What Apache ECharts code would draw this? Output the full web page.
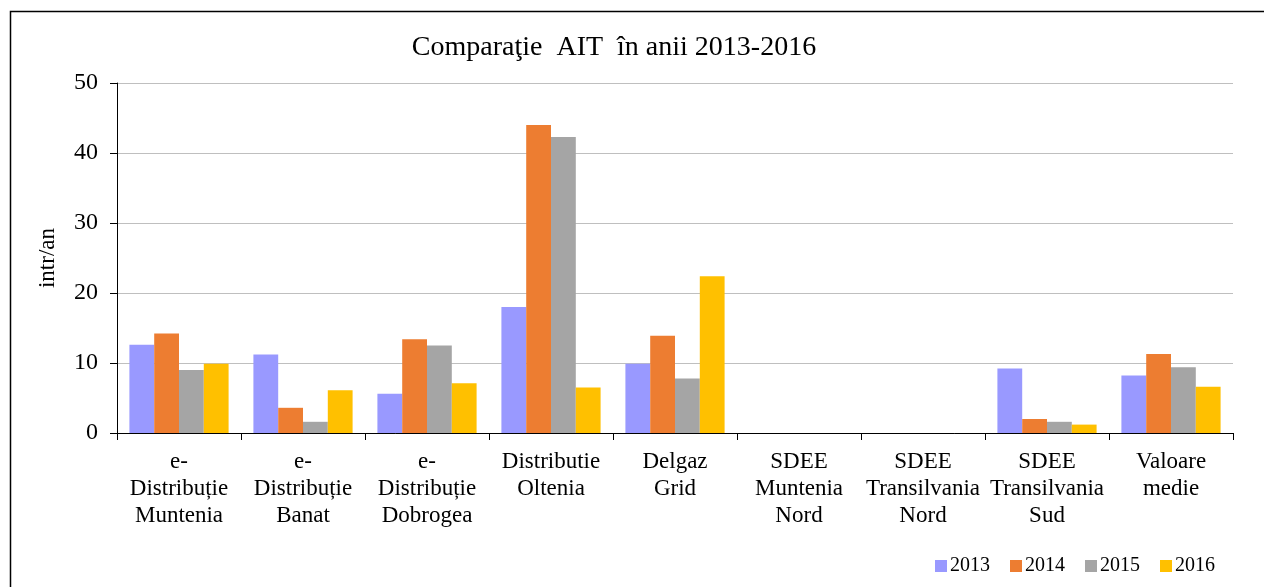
<!DOCTYPE html>
<html>
<head>
<meta charset="utf-8">
<script src="https://cdn.jsdelivr.net/npm/echarts@6/dist/echarts.min.js"></script>
<style>
  html, body { margin: 0; padding: 0; background: #fff; }
  #main { width: 1264px; height: 587px; }
</style>
</head>
<body>
<div id="main"></div>
<script>
var categories = [
  "e-\nDistribuție\nMuntenia",
  "e-\nDistribuție\nBanat",
  "e-\nDistribuție\nDobrogea",
  "Distributie\nOltenia",
  "Delgaz\nGrid",
  "SDEE\nMuntenia\nNord",
  "SDEE\nTransilvania\nNord",
  "SDEE\nTransilvania\nSud",
  "Valoare\nmedie"
];
var years = ["2013", "2014", "2015", "2016"];
var v2013 = [12.6, 11.2, 5.6, 18.0, 9.9, 0, 0, 9.2, 8.2];
var v2014 = [14.2, 3.6, 13.4, 44.0, 13.9, 0, 0, 2.0, 11.3];
var v2015 = [9.0, 1.6, 12.5, 42.3, 7.8, 0, 0, 1.6, 9.4];
var v2016 = [9.9, 6.1, 7.1, 6.5, 22.4, 0, 0, 1.2, 6.6];
var yTicks = [0, 10, 20, 30, 40, 50];

var colors = ["#9999ff", "#ed7d31", "#a5a5a5", "#ffc000"];
var font = "'Liberation Serif', 'DejaVu Serif', serif";

var chart = echarts.init(document.getElementById("main"));
var values = [v2013, v2014, v2015, v2016];
var series = years.map(function (y, i) {
  return {
    name: y,
    type: "bar",
    data: values[i],
    barGap: "0%",
    barCategoryGap: "20%",
    itemStyle: { color: colors[i] }
  };
});

chart.setOption({
  animation: false,
  color: colors,
  textStyle: { fontFamily: font },
  graphic: [{
    type: "rect",
    left: 8, top: 9,
    shape: { width: 1300, height: 700 },
    style: { fill: null, stroke: "#000", lineWidth: 1.5 },
    silent: true
  }],
  title: {
    text: "Comparaţie  AIT  în anii 2013-2016",
    left: 609, top: 29,
    textAlign: "center",
    textStyle: { fontFamily: font, fontSize: 28, fontWeight: "normal", color: "#000" }
  },
  legend: {
    data: years,
    right: 44, top: 551,
    itemWidth: 12, itemHeight: 12, itemGap: 20,
    icon: "rect",
    textStyle: { fontFamily: font, fontSize: 20, color: "#000", padding: [0, 0, 0, -2] }
  },
  grid: { left: 117, right: 31, top: 83, bottom: 154, containLabel: false },
  xAxis: {
    type: "category",
    data: categories,
    axisLine: { lineStyle: { color: "#000", width: 1 } },
    axisTick: { show: true, length: 7, lineStyle: { color: "#000" } },
    axisLabel: {
      interval: 0, margin: 15,
      fontFamily: font, fontSize: 23, color: "#000", lineHeight: 27
    }
  },
  yAxis: {
    type: "value",
    min: yTicks[0], max: yTicks[yTicks.length - 1], interval: 10,
    name: "intr/an",
    nameLocation: "middle",
    nameGap: 58,
    nameRotate: 90,
    nameTextStyle: { fontFamily: font, fontSize: 23, color: "#000" },
    axisLine: { show: true, lineStyle: { color: "#000", width: 1 } },
    axisTick: { show: true, length: 7, lineStyle: { color: "#000" } },
    axisLabel: { margin: 19, fontFamily: font, fontSize: 24, color: "#000" },
    splitLine: { lineStyle: { color: "#bfbfbf", width: 1 } }
  },
  series: series
});
</script>
</body>
</html>
